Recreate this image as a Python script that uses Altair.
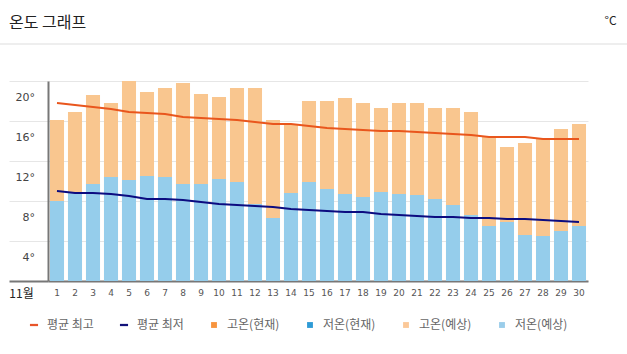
import altair as alt
import pandas as pd

days = list(range(1, 31))
high_fc = [16.1, 16.9, 18.6, 17.8, 20.0, 18.9, 19.3, 19.8, 18.7, 18.4,
           19.3, 19.3, 16.1, 15.6, 18.0, 18.0, 18.3, 17.8, 17.3, 17.8,
           17.8, 17.3, 17.3, 16.9, 14.4, 13.4, 13.8, 14.2, 15.2, 15.7]
low_fc = [8.0, 8.8, 9.7, 10.4, 10.1, 10.5, 10.4, 9.7, 9.7, 10.2,
          9.9, 7.7, 6.3, 8.8, 9.9, 9.2, 8.7, 8.4, 8.9, 8.7,
          8.6, 8.2, 7.6, 6.6, 5.5, 5.9, 4.6, 4.5, 5.0, 5.5]
avg_max = [17.8, 17.6, 17.4, 17.2, 16.9, 16.8, 16.7, 16.4, 16.3, 16.2,
           16.1, 15.9, 15.7, 15.7, 15.5, 15.3, 15.2, 15.1, 15.0, 15.0,
           14.9, 14.8, 14.7, 14.6, 14.4, 14.4, 14.4, 14.2, 14.2, 14.2]
avg_min = [9.0, 8.8, 8.8, 8.7, 8.5, 8.2, 8.2, 8.1, 7.9, 7.7,
           7.6, 7.5, 7.4, 7.2, 7.1, 7.0, 6.9, 6.9, 6.7, 6.6,
           6.5, 6.4, 6.4, 6.3, 6.3, 6.2, 6.2, 6.1, 6.0, 5.9]
y_ticks = [0, 4, 8, 12, 16, 20]
legend_names = ["평균 최고", "평균 최저", "고온(현재)", "저온(현재)", "고온(예상)", "저온(예상)"]
legend_colors = ["#E8552A", "#12127A", "#F7943E", "#2E9BD6", "#FBC898", "#9ACDEA"]

FONT = "Noto Sans CJK KR"
LINE_SYM = "M-0.9,-0.25L0.9,-0.25L0.9,0.25L-0.9,0.25Z"
SQ_SYM = "M-0.65,-0.65L0.65,-0.65L0.65,0.65L-0.65,0.65Z"
legend_shapes = [LINE_SYM, LINE_SYM, SQ_SYM, SQ_SYM, SQ_SYM, SQ_SYM]

df = pd.DataFrame({"day": days, "high": high_fc, "low": low_fc,
                   "avg_max": avg_max, "avg_min": avg_min})
legend_df = pd.DataFrame({"series": legend_names})

x_enc = alt.X(
    "day:O",
    scale=alt.Scale(domain=days, range=[0, 540], paddingInner=0.22, paddingOuter=0.11),
    axis=alt.Axis(
        title="11월", titleX=-27, titleY=12, titleAlign="center", titleBaseline="middle",
        titleFontSize=12, titleFontWeight="normal", titleColor="#222", titleFont=FONT,
        labelAngle=0, labelFontSize=9, labelColor="#555", labelFont="DejaVu Sans",
        labelPadding=7, ticks=False, tickSize=0,
        domainColor="#777", domainWidth=2, grid=False,
    ),
)

y_scale = alt.Scale(domain=[0, 20], nice=False, zero=True)
y_axis = alt.Axis(
    values=y_ticks, tickCount=len(y_ticks) + 2,
    labelExpr="datum.value == 0 ? '' : datum.value + '°'",
    labelFont="DejaVu Sans", labelFontSize=11, labelColor="#444",
    labelOffset=16, labelPadding=-25.5, labelOverlap=False,
    tickSize=39,
    tickColor={"condition": {"test": "datum.value == 0", "value": "#777"}, "value": "#e6e6e6"},
    tickWidth={"condition": {"test": "datum.value == 0", "value": 2}, "value": 1},
    grid=True, gridColor="#e6e6e6", gridWidth=1, gridOpacity=1,
    domainColor="#777", domainWidth=2,
    title="°C", titleX=562, titleY=-61, titleAngle=0, titleAlign="center",
    titleBaseline="middle", titleFontSize=12, titleFontWeight="normal",
    titleColor="#222", titleFont=FONT,
)

base = alt.Chart(df)

high_bars = base.mark_bar(color="#F9C68F").encode(
    x=x_enc, y=alt.Y("high:Q", scale=y_scale, axis=y_axis)
)
low_bars = base.mark_bar(color="#95CDEB").encode(
    x="day:O", y=alt.Y("low:Q")
)
max_line = base.mark_line(color="#E9561D", strokeWidth=2).encode(
    x="day:O", y=alt.Y("avg_max:Q")
)
min_line = base.mark_line(color="#0C0C80", strokeWidth=2).encode(
    x="day:O", y=alt.Y("avg_min:Q")
)

separator = base.mark_rule(color="#dddddd", strokeWidth=1).encode(
    x=alt.value(-48), x2=alt.value(579), y=alt.value(-37)
).transform_filter("datum.day == 1")

legend_layer = alt.Chart(legend_df).mark_point(filled=True, opacity=1).encode(
    color=alt.Color("series:N",
                    scale=alt.Scale(domain=legend_names, range=legend_colors),
                    legend=alt.Legend(
                        title=None, orient="none", legendX=-20, legendY=238,
                        direction="horizontal", columns=6, columnPadding=24,
                        symbolSize=81, symbolStrokeWidth=0, symbolOpacity=1,
                        labelFont=FONT, labelFontSize=12, labelColor="#666",
                        labelOffset=7, padding=0,
                    )),
    shape=alt.Shape("series:N",
                    scale=alt.Scale(domain=legend_names, range=legend_shapes)),
).transform_filter("false")

chart = alt.layer(
    high_bars, low_bars, max_line, min_line, separator, legend_layer
).properties(
    width=559, height=200,
    autosize=alt.AutoSizeParams(type="none"),
    padding={"left": 48, "top": 81, "right": 20, "bottom": 73},
    title=alt.TitleParams(
        "온도 그래프", anchor="start", frame="group", font=FONT, fontSize=16,
        fontWeight="normal", color="#222", dx=-39, dy=21,
    ),
).configure_view(stroke=None)

chart.save("out.html", embed_options={"renderer": "svg", "actions": False})
